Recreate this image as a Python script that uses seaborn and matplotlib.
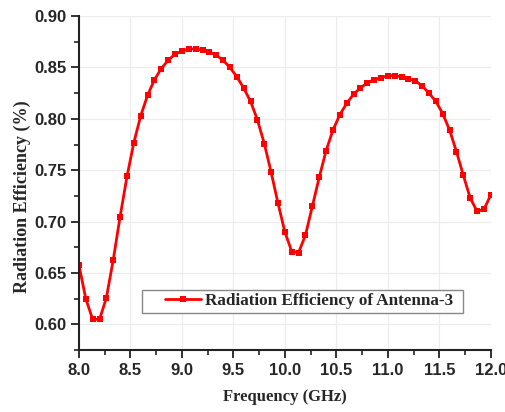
import numpy as np
import pandas as pd
import matplotlib
matplotlib.use("Agg")
import matplotlib.pyplot as plt
import seaborn as sns
from matplotlib.ticker import MultipleLocator
from matplotlib.patches import Rectangle

# Data (frequency step 1/15 GHz, 61 points from 8.0 to 12.0)
freq = [8 + i / 15 for i in range(61)]
efficiency = [
    0.658, 0.625, 0.605, 0.605, 0.626, 0.663, 0.705, 0.744, 0.777, 0.803,
    0.823, 0.838, 0.849, 0.857, 0.863, 0.866, 0.868, 0.868, 0.867, 0.865,
    0.862, 0.857, 0.850, 0.841, 0.830, 0.817, 0.799, 0.776, 0.748, 0.718,
    0.690, 0.671, 0.670, 0.687, 0.715, 0.743, 0.769, 0.789, 0.804, 0.815,
    0.824, 0.830, 0.835, 0.838, 0.840, 0.842, 0.842, 0.841, 0.839, 0.837,
    0.832, 0.825, 0.817, 0.805, 0.789, 0.768, 0.745, 0.723, 0.710, 0.712,
    0.726,
]
series_label = "Radiation Efficiency of Antenna-3"
x_ticks = [8.0, 8.5, 9.0, 9.5, 10.0, 10.5, 11.0, 11.5, 12.0]
y_ticks = [0.60, 0.65, 0.70, 0.75, 0.80, 0.85, 0.90]

df = pd.DataFrame({"Frequency": freq, "Efficiency": efficiency})

sns.set_style("white")
fig = plt.figure(figsize=(5.06, 4.12), dpi=100)
ax = fig.add_axes([0.156, 0.150, 0.814, 0.811])

sns.lineplot(data=df, x="Frequency", y="Efficiency", ax=ax, color="#ff0000",
             marker="s", markersize=4.5, markeredgewidth=0, linewidth=2,
             label=series_label)

ax.set_xlim(8.0, 12.0)
ax.set_ylim(0.575, 0.90)
ax.set_xticks(x_ticks)
ax.set_yticks(y_ticks)
ax.xaxis.set_minor_locator(MultipleLocator(0.25))
ax.yaxis.set_minor_locator(MultipleLocator(0.025))
ax.set_xticklabels([f"{v:.1f}" for v in x_ticks])
ax.set_yticklabels([f"{v:.2f}" for v in y_ticks])

ax.grid(True, which="major", color="#ececec", linewidth=0.8)
ax.set_axisbelow(True)

for s in ["top", "right"]:
    ax.spines[s].set_visible(False)
for s in ["left", "bottom"]:
    ax.spines[s].set_color("#222222")
    ax.spines[s].set_linewidth(1.5)

ax.tick_params(axis="both", which="major", direction="out", length=6, width=1.3,
               color="#222222", labelsize=12, pad=3)
ax.tick_params(axis="both", which="minor", direction="out", length=3.5, width=1.2,
               color="#222222")
ax.tick_params(axis="y", which="both", left=True)
ax.tick_params(axis="x", which="both", bottom=True)
for lab in ax.get_xticklabels() + ax.get_yticklabels():
    lab.set_fontfamily("Liberation Sans")
    lab.set_fontweight("bold")

ax.set_xlabel("Frequency (GHz)", family="Liberation Serif", fontweight="bold",
              fontsize=12)
ax.set_ylabel("Radiation Efficiency (%)", family="Liberation Serif",
              fontweight="bold", fontsize=13)
ax.xaxis.set_label_coords(0.5, -0.117)
ax.yaxis.set_label_coords(-0.116, 0.458)

# legend frame (drawn separately to reproduce the wide left padding)
ax.add_patch(Rectangle((0.153, 0.111), 0.779, 0.069, transform=ax.transAxes,
                       facecolor="white", edgecolor="#888888", linewidth=1.0,
                       zorder=4))
leg = ax.legend(loc="center left", bbox_to_anchor=(0.197, 0.146), frameon=False,
                borderaxespad=0, handlelength=2.1, borderpad=0.3,
                handletextpad=0.25,
                prop={"family": "Liberation Serif", "weight": "bold", "size": 12.3})
leg.set_zorder(5)

fig.savefig("out.png", dpi=100)
